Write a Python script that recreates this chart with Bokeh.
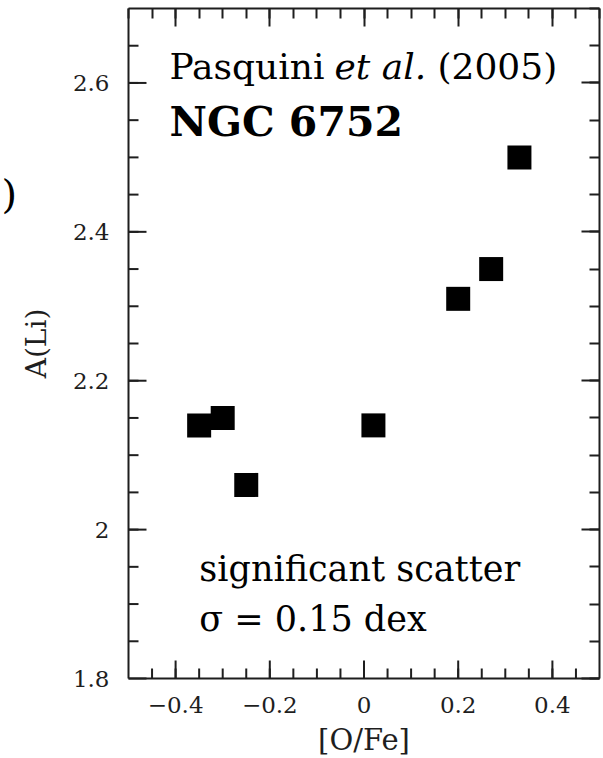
import numpy as np
from bokeh.plotting import figure
from bokeh.models import Range1d, LinearAxis, FixedTicker, CustomJSTickFormatter, Label
from bokeh.embed import file_html
from bokeh.resources import INLINE

# data
o_fe = [-0.35, -0.30, -0.25, 0.02, 0.20, 0.27, 0.33]
a_li = [2.14, 2.15, 2.06, 2.14, 2.31, 2.35, 2.50]

x_ticks = [-0.4, -0.2, 0.0, 0.2, 0.4]
x_tick_labels = ["\u22120.4", "\u22120.2", "0", "0.2", "0.4"]
y_ticks = [1.8, 2.0, 2.2, 2.4, 2.6]
y_tick_labels = ["1.8", "2", "2.2", "2.4", "2.6"]

x_minor = [round(v, 2) for v in np.arange(-0.5, 0.5001, 0.05)]
y_minor = [round(v, 2) for v in np.arange(1.8, 2.7001, 0.05)]

XR = (-0.5, 0.5)
YR = (1.8, 2.7)
FW, FH = 471, 670

FONT = "DejaVu Serif"
INK = "#1e1e1e"

p = figure(frame_width=FW, frame_height=FH,
           min_border_left=128, min_border_right=3, min_border_top=8, min_border_bottom=78,
           x_range=Range1d(*XR), y_range=Range1d(*YR),
           x_axis_location=None, y_axis_location=None,
           output_backend="svg", toolbar_location=None)
p.xgrid.visible = False
p.ygrid.visible = False
p.outline_line_color = None
p.background_fill_color = "white"
p.border_fill_color = "white"

code = """
let best = 0; let d = Infinity;
for (let i = 0; i < t.length; i++) { const e = Math.abs(t[i] - tick); if (e < d) { d = e; best = i; } }
return l[best];
"""
blank = "return ''"

bottom = LinearAxis(axis_label="[O/Fe]",
                    ticker=FixedTicker(ticks=x_ticks, minor_ticks=x_minor),
                    formatter=CustomJSTickFormatter(args=dict(t=x_ticks, l=x_tick_labels), code=code))
left = LinearAxis(axis_label="A(Li)",
                  ticker=FixedTicker(ticks=y_ticks, minor_ticks=y_minor),
                  formatter=CustomJSTickFormatter(args=dict(t=y_ticks, l=y_tick_labels), code=code))
top = LinearAxis(ticker=FixedTicker(ticks=x_ticks, minor_ticks=x_minor),
                 formatter=CustomJSTickFormatter(code=blank))
right = LinearAxis(ticker=FixedTicker(ticks=y_ticks, minor_ticks=y_minor),
                   formatter=CustomJSTickFormatter(code=blank))

for ax in [bottom, left, top, right]:
    ax.axis_line_width = 2
    ax.axis_line_color = INK
    ax.major_tick_line_width = 2
    ax.major_tick_line_color = INK
    ax.minor_tick_line_width = 2
    ax.minor_tick_line_color = INK
    ax.major_tick_in = 18
    ax.major_tick_out = 0
    ax.minor_tick_in = 10
    ax.minor_tick_out = 0
    ax.major_label_text_font = FONT
    ax.major_label_text_font_size = "23px"
    ax.major_label_text_color = INK
    ax.axis_label_text_font = FONT
    ax.axis_label_text_font_style = "normal"
    ax.axis_label_text_color = INK

# inward ticks of the bottom and left sides are drawn as segments below
for ax in [bottom, left]:
    ax.major_tick_in = 0
    ax.minor_tick_in = 0

for ax in [top, right]:
    ax.major_label_text_font_size = "0px"
    ax.major_label_standoff = 0

bottom.major_label_standoff = 18
left.major_label_standoff = 19
bottom.axis_label_text_font_size = "29px"
bottom.axis_label_standoff = 7
left.axis_label_text_font_size = "28px"
left.axis_label_standoff = 17

p.add_layout(bottom, "below")
p.add_layout(left, "left")
p.add_layout(top, "above")
p.add_layout(right, "right")

# inward tick marks (18 px major, 10 px minor) along bottom and left edges
px_x = (XR[1] - XR[0]) / FW
px_y = (YR[1] - YR[0]) / FH
xm = [v for v in x_minor if XR[0] < v < XR[1]]
ym = [v for v in y_minor if YR[0] < v < YR[1]]
seg = dict(line_color=INK, line_width=2, level="overlay")
p.segment(x0=xm, y0=[YR[0]] * len(xm), x1=xm, y1=[YR[0] + 10 * px_y] * len(xm), **seg)
p.segment(x0=x_ticks, y0=[YR[0]] * len(x_ticks), x1=x_ticks, y1=[YR[0] + 18 * px_y] * len(x_ticks), **seg)
p.segment(x0=[XR[0]] * len(ym), y0=ym, x1=[XR[0] + 10 * px_x] * len(ym), y1=ym, **seg)
p.segment(x0=[XR[0]] * len(y_ticks), y0=y_ticks, x1=[XR[0] + 18 * px_x] * len(y_ticks), y1=y_ticks, **seg)

p.scatter(o_fe, a_li, marker="square", size=24, fill_color="black", line_color="black", line_width=0)

def lab(text, x, y, size, style="normal", xoff=0, align="left"):
    p.add_layout(Label(x=x, y=y, x_offset=xoff, text=text, text_font=FONT, text_font_size=size,
                       text_font_style=style, text_color="black", text_baseline="alphabetic",
                       text_align=align))

x0 = -0.413
y_ref = 2.622
lab("Pasquini", x0, y_ref, "36px")
lab("et al.", x0, y_ref, "36px", style="italic", xoff=165)
lab("(2005)", x0, y_ref, "36px", xoff=268)
lab("NGC 6752", x0, 2.547, "41px", style="bold")
lab("significant scatter", -0.3496, 1.947, "35px")
lab("\u03c3 = 0.15 dex", -0.3496, 1.880, "35px")

# fragment of a neighbouring panel's text, at the far left edge
p.add_layout(Label(x=1, y=193, text=")", text_font=FONT, text_font_size="40px",
                   text_color="black", text_baseline="alphabetic", text_align="left",
                   x_units="canvas", y_units="canvas"), "left")

open("out.html", "w").write(file_html(p, INLINE))
